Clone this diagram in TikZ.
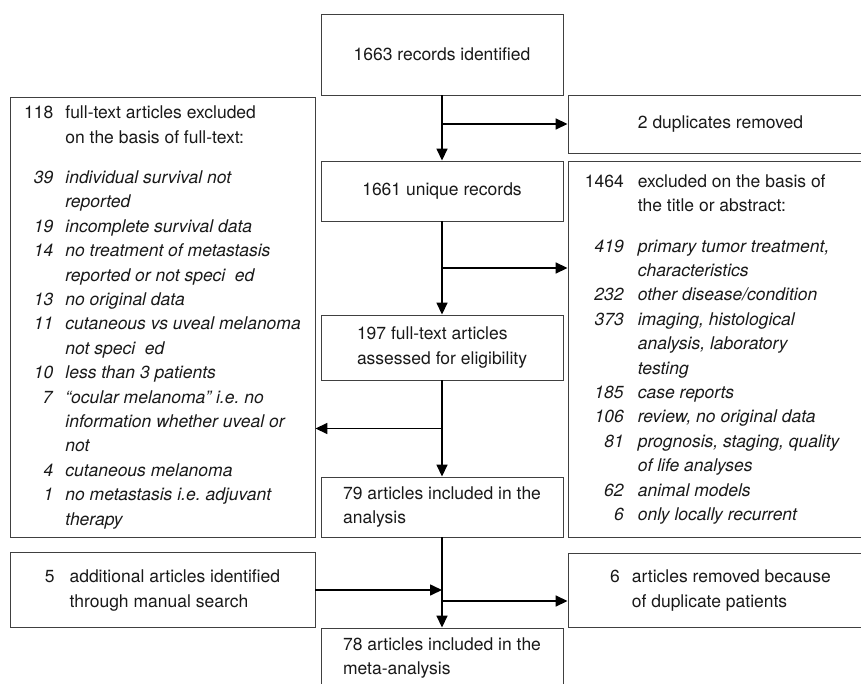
\documentclass[tikz,border=0pt]{standalone}
\usepackage{fontspec}
\setmainfont{TeX Gyre Heros}
\usetikzlibrary{arrows.meta,calc}

\tikzset{
  box/.style={draw=black!75, line width=0.9pt, inner sep=0pt, align=left,
    text=black!90, font=\fontsize{17.5}{24.4}\selectfont},
  mainbox/.style={box, minimum width=242pt},
  sidebox/.style={box, minimum width=305pt},
  flow/.style={line width=1.6pt, -{Triangle[length=12pt,width=11pt]}}
}
\newcommand{\reason}[2]{\textit{#1} & \textit{#2}\\}
\frenchspacing

\begin{document}
\begin{tikzpicture}[x=1pt,y=-1pt]
  % Fix the page to the reference size
  \useasboundingbox (0,0) rectangle (861,684);

  % Draw the main column
  \node[mainbox, minimum height=81pt] (records) at (442,54.5) {1663 records identified};
  \node[mainbox, minimum height=60pt] (unique) at (442,191) {1661 unique records};
  \node[mainbox, minimum height=65pt] (fulltext) at (442,347.5) {197 full-text articles\\assessed for eligibility};
  \node[mainbox, minimum height=60pt] (included) at (442,507) {79 articles included in the\\analysis};
  \node[mainbox, minimum height=60pt] (meta) at (442,658) {78 articles included in the\\meta-analysis};

  % Draw the boxes on the right
  \node[sidebox, minimum height=58pt] (dup) at (720.5,124) {2 duplicates removed};
  \node[sidebox, minimum height=376pt] (screen) at (720.5,349) {%
    \begin{tabular}{@{}r@{\hspace{14pt}}l@{}}
      1464 & excluded on the basis of\\
           & the title or abstract:\\[16pt]
      \reason{419}{primary tumor treatment,}
      \reason{}{characteristics}
      \reason{232}{other disease/condition}
      \reason{373}{imaging, histological}
      \reason{}{analysis, laboratory}
      \reason{}{testing}
      \reason{185}{case reports}
      \reason{106}{review, no original data}
      \reason{81}{prognosis, staging, quality}
      \reason{}{of life analyses}
      \reason{62}{animal models}
      \reason{6}{only locally recurrent}
    \end{tabular}\hspace{16pt}};
  \node[sidebox, minimum height=74pt] (removed) at (720.5,590) {%
    \begin{tabular}{@{}r@{\hspace{12pt}}l@{}}
      6 & articles removed because\\
        & of duplicate patients
    \end{tabular}};

  % Draw the boxes on the left
  \node[sidebox, minimum height=440pt] (excluded) at (162.5,317) {%
    \begin{tabular}{@{}r@{\hspace{12pt}}l@{}}
      118 & full-text articles excluded\\
          & on the basis of full-text:\\[16pt]
      \reason{39}{individual survival not}
      \reason{}{reported}
      \reason{19}{incomplete survival data}
      \reason{14}{no treatment of metastasis}
      \reason{}{reported or not speci\hspace{0.55em}ed}
      \reason{13}{no original data}
      \reason{11}{cutaneous vs uveal melanoma}
      \reason{}{not speci\hspace{0.55em}ed}
      \reason{10}{less than 3 patients}
      \reason{7}{“ocular melanoma” i.e. no}
      \reason{}{information whether uveal or}
      \reason{}{not}
      \reason{4}{cutaneous melanoma}
      \reason{1}{no metastasis i.e. adjuvant}
      \reason{}{therapy}
    \end{tabular}};
  \node[sidebox, minimum height=75pt] (manual) at (162.5,590) {%
    \begin{tabular}{@{}r@{\hspace{15pt}}l@{}}
      5 & additional articles identified\\
        & through manual search
    \end{tabular}};

  % Draw the arrows down the middle
  \draw[flow] (records) -- (unique);
  \draw[flow] (unique) -- (fulltext);
  \draw[flow] (fulltext) -- (included);
  \draw[flow] (included) -- (meta);

  % Draw the arrows out of the middle
  \draw[flow] (records.south |- dup.west) -- (dup.west);
  \coordinate (split1) at ($(unique.south)!0.5!(fulltext.north)$);
  \draw[flow] (split1) -- (split1 -| screen.west);
  \coordinate (split2) at ($(fulltext.south)!0.5!(included.north)$);
  \draw[flow] (split2) -- (split2 -| excluded.east);

  % Draw the manual search arrow and the last split
  \coordinate (join) at (manual.east -| included.south);
  \draw[flow] (manual.east) -- (join);
  \coordinate (split3) at ($(join)+(0,11)$);
  \draw[flow] (split3) -- (split3 -| removed.west);
\end{tikzpicture}
\end{document}
